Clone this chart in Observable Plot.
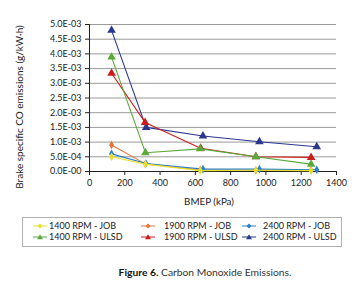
<!DOCTYPE html>
<html><head><meta charset="utf-8">
<script src="https://cdn.jsdelivr.net/npm/d3@7"></script>
<script src="https://cdn.jsdelivr.net/npm/@observablehq/plot@0.6"></script>
<style>
body{margin:0;background:#fff;font-family:Lato,"DejaVu Sans",sans-serif;color:#222;}
#wrap{position:relative;width:357px;height:290px;overflow:hidden;}
#plot{position:absolute;left:0;top:0;}
#legend{position:absolute;left:22px;top:217px;width:320px;height:30px;border:1px solid #b0b0b0;box-sizing:border-box;}
.item{position:absolute;height:10px;font-size:9px;line-height:10px;white-space:nowrap;}
.item svg{position:absolute;left:0;top:0;}
.item span{position:absolute;top:0;}
#caption{position:absolute;left:53px;top:266px;width:304px;text-align:center;font-size:10.3px;line-height:13px;color:#333;}
#caption b{font-weight:700;color:#111;}
</style>
</head><body>
<div id="wrap">
<div id="plot"></div>
<div id="legend"></div>
<div id="caption"><b>Figure 6.</b> Carbon Monoxide Emissions.</div>
</div>
<script>
// ---- data ----
const seriesNames = ["1400 RPM - JOB","1900 RPM - JOB","2400 RPM - JOB","1400 RPM - ULSD","1900 RPM - ULSD","2400 RPM - ULSD"];
const seriesColors = ["#e8e030","#e8743b","#2a80c4","#5aaa3a","#cc1c1c","#2b3890"];
const seriesSymbols = ["diamond","diamond","diamond","triangle","triangle","triangle"];

const bmep1400JOB  = [125, 317, 628, 943, 1256];
const bmep1900JOB  = [125, 317, 628, 943, 1256];
const bmep2400JOB  = [125, 320, 643, 963, 1288];
const bmep1400ULSD = [125, 317, 628, 943, 1256];
const bmep1900ULSD = [125, 315, 630, 943, 1256];
const bmep2400ULSD = [125, 321, 643, 963, 1288];

const co1400JOB  = [0.00050, 0.00025, 0.00003, 0.00004, 0.00003];
const co1900JOB  = [0.00090, 0.00026, 0.00005, 0.00004, 0.00004];
const co2400JOB  = [0.00060, 0.00027, 0.00008, 0.00008, 0.00006];
const co1400ULSD = [0.00389, 0.00064, 0.00077, 0.00050, 0.00025];
const co1900ULSD = [0.00334, 0.00167, 0.00079, 0.00050, 0.00048];
const co2400ULSD = [0.00480, 0.00150, 0.00121, 0.00101, 0.00084];

const xTicks = [0, 200, 400, 600, 800, 1000, 1200, 1400];
const yTicks = [0, 0.0005, 0.001, 0.0015, 0.002, 0.0025, 0.003, 0.0035, 0.004, 0.0045, 0.005];
const yTickLabels = ["0.0E-00","5.0E-04","1.0E-03","1.5E-03","2.0E-03","2.5E-03","3.0E-03","3.5E-03","4.0E-03","4.5E-03","5.0E-03"];

const xLabel = "BMEP (kPa)";
const yLabel = "Brake specific CO emissions (g/kW·h)";

// ---- table ----
const bmeps = [bmep1400JOB, bmep1900JOB, bmep2400JOB, bmep1400ULSD, bmep1900ULSD, bmep2400ULSD];
const cos = [co1400JOB, co1900JOB, co2400JOB, co1400ULSD, co1900ULSD, co2400ULSD];
const rows = [];
seriesNames.forEach((s, k) => bmeps[k].forEach((x, i) => rows.push({series: s, x, y: cos[k][i]})));

// draw order: ULSD under JOB lines
const order = [5,4,3,1,2,0];

const marks = [
  Plot.ruleY(yTicks.filter(d => d > 0), {stroke: "#9a9a9a", strokeWidth: 1}),
  Plot.axisY({ticks: yTicks, tickFormat: (d, i) => yTickLabels[i], tickSize: 4, tickPadding: 4, label: null, fontSize: 9, stroke: "#222"}),
  Plot.axisX({ticks: xTicks, tickFormat: d => String(d), tickSize: 4, tickPadding: 4, label: null, fontSize: 9, stroke: "#222"}),
  Plot.ruleX([0], {stroke: "#222"}),
  Plot.ruleY([0], {stroke: "#222"}),
  Plot.text([xLabel], {frameAnchor: "bottom", textAnchor: "middle", dy: 30, dx: -4, fontSize: 9.8, fill: "#222", lineAnchor: "middle"}),
  Plot.text([yLabel], {frameAnchor: "left", textAnchor: "middle", lineAnchor: "middle", rotate: -90, dx: -70, dy: 9, fontSize: 10, fill: "#222"})
];
for (const k of order) {
  const s = seriesNames[k];
  const data = rows.filter(r => r.series === s);
  marks.push(Plot.line(data, {x: "x", y: "y", stroke: seriesColors[k], strokeWidth: 1.1}));
  marks.push(Plot.dot(data, {x: "x", y: "y", symbol: seriesSymbols[k], r: k >= 3 ? 3.2 : 2.6, fill: seriesColors[k], stroke: "none"}));
}

const chart = Plot.plot({
  width: 357,
  height: 210,
  marginTop: 24,
  marginBottom: 39,
  marginLeft: 89,
  marginRight: 21,
  style: {fontFamily: "Lato, 'DejaVu Sans', sans-serif", color: "#222", background: "#fff"},
  x: {domain: [0, 1400]},
  y: {domain: [0, 0.005]},
  marks
});
document.getElementById("plot").appendChild(chart);

// ---- legend ----
const legend = document.getElementById("legend");
const colLeft = [10, 118, 219];   // marker-line start, relative to box
const rowTop = [3, 14];
const legendOrder = [[0,1,2],[3,4,5]];
legendOrder.forEach((row, ri) => row.forEach((k, ci) => {
  const it = document.createElement("div");
  it.className = "item";
  it.style.left = colLeft[ci] + "px";
  it.style.top = rowTop[ri] + "px";
  const sym = seriesSymbols[k] === "triangle"
    ? `<path d="M7,2.3 L10,7.3 L4,7.3 Z" fill="${seriesColors[k]}"/>`
    : `<path d="M7,2.5 L9.5,5 L7,7.5 L4.5,5 Z" fill="${seriesColors[k]}"/>`;
  it.innerHTML = `<svg width="14" height="10"><line x1="0" x2="14" y1="5" y2="5" stroke="${seriesColors[k]}" stroke-width="1"/>${sym}</svg><span style="left:${ci===0?16:ci===1?23:21}px">${seriesNames[k]}</span>`;
  legend.appendChild(it);
}));
</script>
</body></html>
